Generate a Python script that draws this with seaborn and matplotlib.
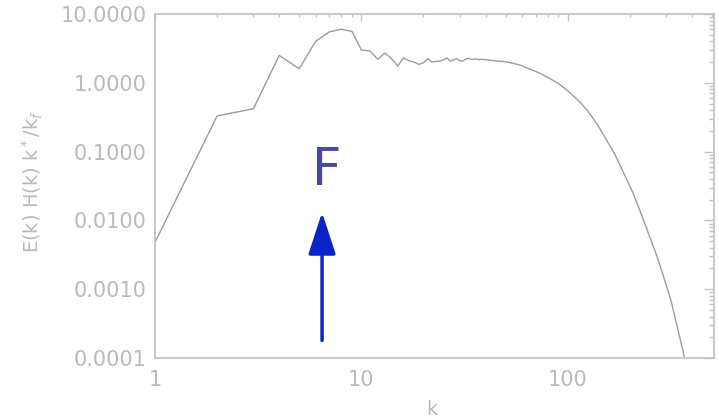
import numpy as np
import pandas as pd
import matplotlib
matplotlib.use("Agg")
import matplotlib.pyplot as plt
import matplotlib.ticker as mticker
import seaborn as sns

# spectrum values (log-log)
k_vals = [1, 2, 3, 4, 5, 6, 7, 8, 9, 10,
          11, 12, 13, 14, 15, 16, 17, 18, 19, 20,
          21, 22, 23, 24, 25, 26, 27, 28, 29, 30,
          31, 32, 33, 34, 35, 36, 37, 38, 39, 40,
          42, 45, 48, 51, 54, 57, 60, 62, 65, 70,
          75, 82, 90, 100, 115, 125, 139, 150, 169, 185,
          207, 234, 250, 271, 290, 316, 340, 366, 375]
spec_vals = [0.0048, 0.33, 0.42, 2.5, 1.6, 4.0, 5.5, 6.0, 5.6, 3.0,
             2.9, 2.2, 2.7, 2.25, 1.75, 2.3, 2.1, 2.0, 1.85, 1.95,
             2.25, 2.0, 2.05, 2.07, 2.15, 2.3, 2.07, 2.15, 2.25, 2.1,
             2.07, 2.2, 2.28, 2.2, 2.19, 2.22, 2.17, 2.2, 2.17, 2.18,
             2.14, 2.08, 2.05, 2.0, 1.93, 1.85, 1.78, 1.68, 1.6, 1.46,
             1.33, 1.15, 0.98, 0.77, 0.52, 0.39, 0.25, 0.17, 0.092, 0.052,
             0.0254, 0.0098, 0.0057, 0.0030, 0.0016, 0.0007, 0.00028, 0.00011, 0.00007]

x_ticks = [1, 10, 100]
x_ticklabels = ["1", "10", "100"]
y_ticks = [0.0001, 0.001, 0.01, 0.1, 1.0, 10.0]

df = pd.DataFrame({"k": k_vals, "spec": spec_vals})

sns.set_style("white")
plt.rcParams["font.family"] = ["DejaVu Sans"]

axis_grey = "#c4c4c4"
text_grey = "#bababa"

fig = plt.figure(figsize=(7.19, 4.19), dpi=100)
ax = fig.add_axes([0.2156, 0.1456, 0.7775, 0.821])

sns.lineplot(data=df, x="k", y="spec", ax=ax, color="#9c9c9c", linewidth=1.0,
             estimator=None, sort=False)

ax.set_xscale("log")
ax.set_yscale("log")
ax.set_xlim(1, 512)
ax.set_ylim(1e-4, 10)

ax.set_xticks(x_ticks)
ax.set_xticklabels(x_ticklabels)
ax.set_yticks(y_ticks)
ax.yaxis.set_major_formatter(mticker.FuncFormatter(lambda v, p: f"{v:.4f}"))
ax.xaxis.set_minor_formatter(mticker.NullFormatter())
ax.yaxis.set_minor_formatter(mticker.NullFormatter())

for s in ax.spines.values():
    s.set_color(axis_grey)
    s.set_linewidth(1.3)

ax.tick_params(which="both", direction="in", top=True, right=True,
               color=axis_grey, labelcolor=text_grey, labelsize=15, width=1.0)
ax.tick_params(axis="x", which="major", length=5, pad=9)
ax.tick_params(axis="x", which="minor", length=2.5)
ax.tick_params(axis="y", which="major", length=7.2, pad=6)
ax.tick_params(axis="y", which="minor", length=3.6)

ax.set_xlabel("k", color=text_grey, fontsize=14)
ax.set_ylabel(r"E(k) H(k) k$^*$/k$_f$", color=text_grey, fontsize=14)
ax.xaxis.set_label_coords(0.4955, -0.122)
ax.yaxis.set_label_coords(-0.197, 0.5145)

# arrow and letter marker
ax.annotate("", xy=(6.45, 0.0131), xytext=(6.45, 0.00018),
            arrowprops=dict(arrowstyle="-|>,head_length=2.6,head_width=0.85",
                            mutation_scale=10, color="#0b24c9", lw=2.5,
                            shrinkA=0, shrinkB=0))
fig.text(0.455, 0.5585, "F", color="#4848a8", fontsize=37,
         ha="center", va="baseline")

fig.savefig("out.png", dpi=100)
